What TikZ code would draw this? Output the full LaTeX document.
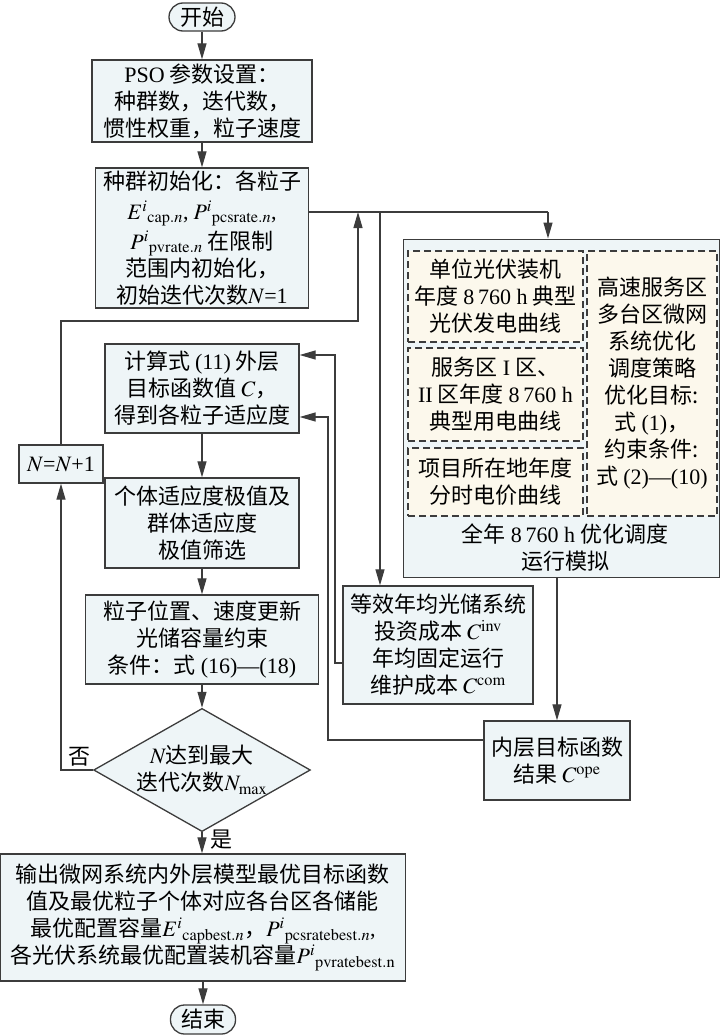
\documentclass[tikz,border=0pt]{standalone}
\usepackage{mathptmx}
\usepackage{fontspec}
\setmainfont{Liberation Serif}
\newfontfamily\cjk{Noto Sans CJK SC}
\usetikzlibrary{shapes.geometric,arrows.meta}
\newcommand{\lat}[1]{{\rmfamily #1}}
\definecolor{fillblue}{HTML}{EEF5F7}
\definecolor{fillcream}{HTML}{FCF8EC}
\definecolor{linegray}{HTML}{3C3C3C}

\begin{document}
\begin{tikzpicture}[x=1pt,y=-1pt,
  every node/.style={font=\cjk\fontsize{22}{27}\selectfont},
  box/.style={draw=linegray,line width=1.3pt,fill=fillblue,align=center,inner sep=1pt},
  dbox/.style={draw=linegray,line width=1.3pt,dash pattern=on 7pt off 4pt,fill=fillcream,align=center,inner sep=0pt},
  flow/.style={draw=linegray,line width=1.2pt,-{Triangle[length=16pt,width=9pt]}},
  line/.style={draw=linegray,line width=1.2pt}]
\useasboundingbox (0,0) rectangle (720,1036);

\node[box,rounded corners=14pt,minimum width=66pt,minimum height=28pt] (start) at (202,17) {开始};
\node[box,minimum width=220pt,minimum height=82pt] (pso) at (202,101) {\lat{PSO} 参数设置：\\种群数，迭代数，\\惯性权重，粒子速度};
\node[box,minimum width=213pt,minimum height=140pt,inner sep=0pt] (init) at (202,238) {种群初始化：各粒子\\[3pt]${E^{i}}_{\mathrm{cap}.n}$\lat{,} ${P^{i}}_{\mathrm{pcsrate}.n}$\lat{,}\\[3pt]${P^{i}}_{\mathrm{pvrate}.n}$ 在限制\\范围内初始化，\\初始迭代次数$N$\lat{=1}};
\node[box,minimum width=194pt,minimum height=89pt] (calc) at (202,388.5) {计算式 \lat{(11)} 外层\\目标函数值 $C$，\\得到各粒子适应度};
\node[box,minimum width=84pt,minimum height=38pt] (nplus) at (61,464) {$N$\lat{=}$N$\lat{+1}};
\node[box,minimum width=194pt,minimum height=90pt] (fit) at (202,523) {个体适应度极值及\\群体适应度\\极值筛选};
\node[box,minimum width=233pt,minimum height=89pt] (upd) at (202,639.5) {粒子位置、速度更新\\光储容量约束\\条件：式 \lat{(16)—(18)}};
\node[box,diamond,aspect=1.76,inner sep=0pt,minimum width=216pt,minimum height=123pt] (dec) at (202,770) {$N$达到最大\\迭代次数$N_{\mathrm{max}}$};
\node[box,minimum width=405pt,minimum height=127pt] (out) at (203,917.5) {输出微网系统内外层模型最优目标函数\\值及最优粒子个体对应各台区各储能\\最优配置容量${E^{i}}_{\mathrm{capbest}.n}$，${P^{i}}_{\mathrm{pcsratebest}.n}$\lat{,}\\各光伏系统最优配置装机容量${P^{i}}_{\mathrm{pvratebest.n}}$};
\node[box,rounded corners=14pt,minimum width=65pt,minimum height=29pt] (stop) at (203,1019.5) {结束};

\node[box,line width=1pt,minimum width=316pt,minimum height=338pt] (panel) at (561,408) {};
\node[dbox,minimum width=175pt,minimum height=91pt] (pvc) at (495.5,296.5) {单位光伏装机\\年度 \lat{8\,760 h} 典型\\光伏发电曲线};
\node[dbox,minimum width=175pt,minimum height=93pt] (load) at (495.5,394.5) {服务区 \lat{I} 区、\\\lat{II} 区年度 \lat{8\,760 h}\\典型用电曲线};
\node[dbox,minimum width=175pt,minimum height=68pt] (price) at (495.5,482) {项目所在地年度\\分时电价曲线};
\node[dbox,minimum width=130pt,minimum height=265pt] (strat) at (652,383.5) {高速服务区\\多台区微网\\系统优化\\调度策略\\优化目标:\\式 \lat{(1)}，\\约束条件:\\式 \lat{(2)—(10)}};
\node[align=center] (sim) at (565,548) {全年 \lat{8\,760 h} 优化调度\\运行模拟};

\node[box,minimum width=190pt,minimum height=118pt] (cost) at (438,645) {等效年均光储系统\\投资成本 $C^{\mathrm{inv}}$\\年均固定运行\\维护成本 $C^{\mathrm{com}}$};
\node[box,minimum width=146pt,minimum height=79pt] (inner) at (557,760.5) {内层目标函数\\结果 $C^{\mathrm{ope}}$};

\node (no) at (79,757) {否};
\node (yes) at (221,840) {是};

\coordinate (ta) at (358,212);
\coordinate (tb) at (380,212);
\coordinate (tc) at (548,212);
\coordinate (tl) at (358,321);
\coordinate (ra) at (335,355);
\coordinate (rb) at (328,417);

\draw[flow] (start) -- (pso);
\draw[flow] (pso) -- (init);
\draw[flow] (calc) -- (fit);
\draw[flow] (fit) -- (upd);
\draw[flow] (upd) -- (dec);
\draw[flow] (dec.south) -- (dec.south |- out.north);
\draw[flow] (out) -- (stop);
\draw[flow] (dec) -| (nplus);
\draw[flow] (nplus) |- (tl) -- (ta);
\draw[line] ([yshift=26pt]init.east) -- (tc);
\draw[flow] (tc) -- (tc |- panel.north);
\draw[flow] (tb) -- (tb |- cost.north);
\draw[flow] ([yshift=-18pt]cost.west) -| (ra) -- (ra -| calc.east);
\draw[flow] (panel.south -| inner.north) -- (inner.north);
\draw[flow] ([yshift=20.5pt]inner.west) -| (rb) -- (rb -| calc.east);
\end{tikzpicture}
\end{document}
